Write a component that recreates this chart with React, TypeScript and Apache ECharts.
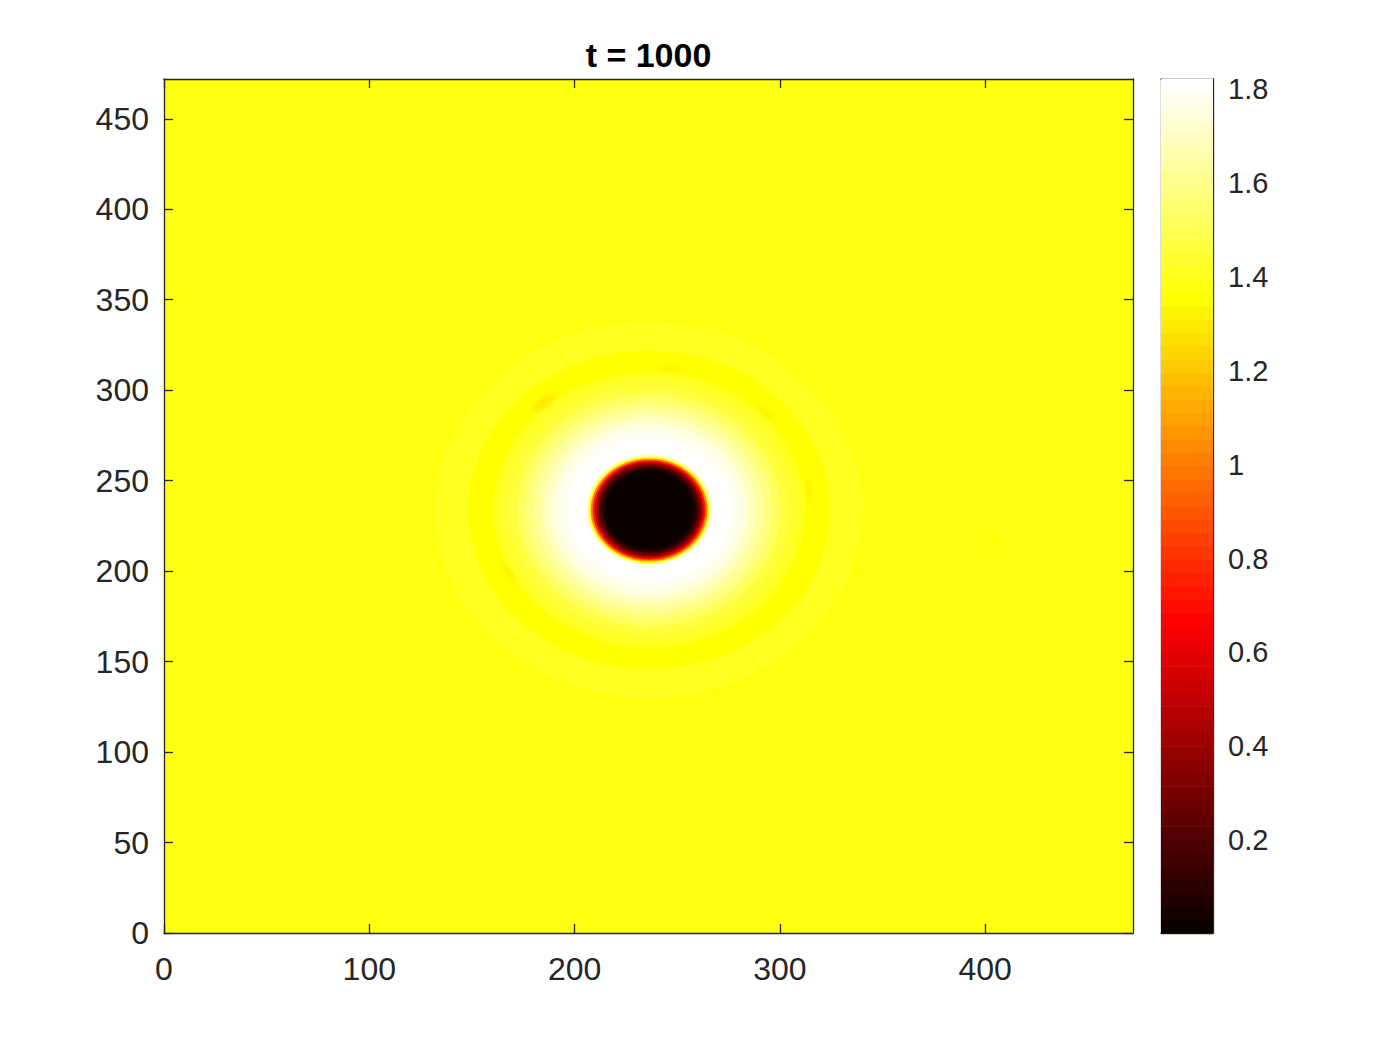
import React, { useEffect, useRef } from "react";
import * as echarts from "echarts";

// ---------- data ----------
const titleText = "t = 1000";
const xTicks = [0, 100, 200, 300, 400];
const yTicks = [0, 50, 100, 150, 200, 250, 300, 350, 400, 450];
const colorbarTicks = [0.2, 0.4, 0.6, 0.8, 1, 1.2, 1.4, 1.6, 1.8];
const domainMax = 472;
const colorMin = 0.002;
const colorMax = 1.822;
const backgroundValue = 1.39;

// centre of the vortex core (data units)
const vortexCenterX = 236.3;
const vortexCenterY = 233.8;

// radial profile: outer radius of each band and the value inside that band
const ringRadius = [112, 104, 96, 88, 82, 76, 72, 68, 64, 60, 56, 52, 48, 44, 40, 36, 32, 30.5, 29.5, 28.5, 27.5, 26.5, 25.5, 24.5, 23.5, 22.5, 21];
const ringValue = [1.39, 1.42, 1.41, 1.36, 1.36, 1.4, 1.43, 1.47, 1.52, 1.58, 1.64, 1.7, 1.75, 1.79, 1.8, 1.81, 1.82, 1.7, 1.4, 1.05, 0.72, 0.5, 0.34, 0.22, 0.12, 0.05, 0.02];

// faint patches in the outer ring
const blobX = [184.7, 246.5, 293.6, 313.9, 167.7, 157.2, 404];
const blobY = [293, 312, 287.3, 244, 199, 244, 215.5];
const blobHalfLength = [9, 7, 8, 7, 8, 3, 3];
const blobHalfWidth = [4, 2.5, 3, 3, 3.5, 2.5, 3];
const blobAngle = [35, 0, -40, 90, -55, 90, 0];
const blobValue = [1.31, 1.33, 1.32, 1.32, 1.32, 1.34, 1.35];

// ---------- colormap (MATLAB hot, 64 levels) ----------
const LEVELS = 64;
const levelIndex = Array.from({ length: LEVELS }, (_, i) => i);

function hotLevelRGB(idx: number): number[] {
  const i = idx + 1;
  const r = Math.min(1, i / 24);
  const g = Math.min(1, Math.max(0, (i - 24) / 24));
  const b = Math.min(1, Math.max(0, (i - 48) / 16));
  return [Math.round(r * 255), Math.round(g * 255), Math.round(b * 255)];
}
function valueIndex(v: number): number {
  const idx = Math.floor(((v - colorMin) / (colorMax - colorMin)) * LEVELS);
  return Math.max(0, Math.min(LEVELS - 1, idx));
}
function rgbStr(c: number[], a = 1) {
  return `rgba(${c[0]},${c[1]},${c[2]},${a})`;
}
function hotColor(v: number) {
  return rgbStr(hotLevelRGB(valueIndex(v)));
}

const FONT = '"Liberation Sans", Arial, Helvetica, sans-serif';
const AXIS_COLOR = "#262626";
const axisLineStyle = { color: AXIS_COLOR, width: 1.3 };

export default function App() {
  const ref = useRef<HTMLDivElement>(null);

  useEffect(() => {
    if (!ref.current) return;
    const chart = echarts.init(ref.current, null, { renderer: "svg" });
    const bgRGB = hotLevelRGB(valueIndex(backgroundValue));

    const mainX = (position: string, labels: boolean) => ({
      gridIndex: 0,
      type: "value",
      min: 0,
      max: domainMax,
      position,
      axisLine: { show: true, onZero: false, lineStyle: axisLineStyle },
      axisTick: { show: true, inside: true, length: 9, lineStyle: axisLineStyle, customValues: xTicks },
      axisLabel: labels
        ? { show: true, customValues: xTicks, fontSize: 32, color: AXIS_COLOR, fontFamily: FONT, margin: 20 }
        : { show: false },
      splitLine: { show: false },
    });
    const mainY = (position: string, labels: boolean) => ({
      gridIndex: 0,
      type: "value",
      min: 0,
      max: domainMax,
      position,
      axisLine: { show: true, onZero: false, lineStyle: axisLineStyle },
      axisTick: { show: true, inside: true, length: 9, lineStyle: axisLineStyle, customValues: yTicks },
      axisLabel: labels
        ? { show: true, customValues: yTicks, fontSize: 32, color: AXIS_COLOR, fontFamily: FONT, margin: 15 }
        : { show: false },
      splitLine: { show: false },
    });
    const cbX = (position: string) => ({
      gridIndex: 1,
      type: "value",
      min: 0,
      max: 1,
      position,
      axisLine: { show: true, onZero: false, lineStyle: axisLineStyle },
      axisTick: { show: false },
      axisLabel: { show: false },
      splitLine: { show: false },
    });

    const option: any = {
      animation: false,
      backgroundColor: "#ffffff",
      grid: [
        {
          left: 164,
          top: 79,
          width: 969,
          height: 854,
          show: true,
          backgroundColor: rgbStr(bgRGB),
          borderWidth: 0,
          containLabel: false,
          outerBoundsMode: "none",
        },
        {
          left: 1161,
          top: 79,
          width: 52,
          height: 854,
          show: false,
          containLabel: false,
          outerBoundsMode: "none",
        },
      ],
      xAxis: [mainX("bottom", true), mainX("top", false), cbX("bottom"), cbX("top")],
      yAxis: [
        mainY("left", true),
        mainY("right", false),
        {
          gridIndex: 1,
          type: "value",
          min: colorMin,
          max: colorMax,
          position: "right",
          axisLine: { show: true, onZero: false, lineStyle: axisLineStyle },
          axisTick: { show: true, inside: true, length: 9, lineStyle: axisLineStyle, customValues: colorbarTicks },
          axisLabel: { show: true, customValues: colorbarTicks, fontSize: 29, color: AXIS_COLOR, fontFamily: FONT, margin: 15 },
          splitLine: { show: false },
        },
        {
          gridIndex: 1,
          type: "value",
          min: colorMin,
          max: colorMax,
          position: "left",
          axisLine: { show: true, onZero: false, lineStyle: axisLineStyle },
          axisTick: { show: false },
          axisLabel: { show: false },
          splitLine: { show: false },
        },
      ],
      series: [
        {
          type: "custom",
          name: "field",
          xAxisIndex: 0,
          yAxisIndex: 0,
          silent: true,
          data: ringRadius.map((r, k) => [r, ringValue[k]]),
          renderItem: (_params: any, api: any) => {
            const r = api.value(0);
            const v = api.value(1);
            const c = api.coord([vortexCenterX, vortexCenterY]);
            const s = api.size([r, r]);
            return {
              type: "ellipse",
              shape: { cx: c[0], cy: c[1], rx: s[0], ry: s[1] },
              style: { fill: hotColor(v) },
            };
          },
        },
        {
          type: "custom",
          name: "patches",
          xAxisIndex: 0,
          yAxisIndex: 0,
          silent: true,
          data: blobX.map((x, k) => [x, blobY[k], blobHalfLength[k], blobHalfWidth[k], blobAngle[k], blobValue[k]]),
          renderItem: (_params: any, api: any) => {
            const c = api.coord([api.value(0), api.value(1)]);
            const s = api.size([api.value(2), api.value(2)]);
            const w = api.size([api.value(3), api.value(3)]);
            const col = hotLevelRGB(valueIndex(api.value(5)));
            return {
              type: "ellipse",
              x: c[0],
              y: c[1],
              rotation: (api.value(4) * Math.PI) / 180,
              shape: { cx: 0, cy: 0, rx: s[0], ry: w[1] },
              style: {
                fill: new echarts.graphic.RadialGradient(0.5, 0.5, 0.5, [
                  { offset: 0, color: rgbStr(col, 1) },
                  { offset: 0.5, color: rgbStr(col, 0.8) },
                  { offset: 1, color: rgbStr(col, 0) },
                ]),
              },
            };
          },
        },
        {
          type: "custom",
          name: "colorbar",
          xAxisIndex: 2,
          yAxisIndex: 2,
          silent: true,
          data: levelIndex.map((i) => [i, 0]),
          renderItem: (_params: any, api: any) => {
            const i = api.value(0);
            const step = (colorMax - colorMin) / LEVELS;
            const lo = colorMin + i * step;
            const hi = lo + step;
            const a = api.coord([0, hi]);
            const b = api.coord([1, lo]);
            return {
              type: "rect",
              shape: { x: a[0], y: a[1], width: b[0] - a[0], height: b[1] - a[1] + 0.6 },
              style: { fill: rgbStr(hotLevelRGB(i)) },
            };
          },
        },
      ],
      graphic: [
        {
          type: "text",
          x: 648.5,
          y: 54.5,
          style: {
            text: titleText,
            font: `bold 34px ${FONT}`,
            fill: "#000000",
            align: "center",
            verticalAlign: "middle",
          },
        },
      ],
    };

    chart.setOption(option);
    return () => chart.dispose();
  }, []);

  return (
    <div
      ref={ref}
      style={{ position: "fixed", left: 0, top: 0, width: 1400, height: 1050, background: "#fff" }}
    />
  );
}
